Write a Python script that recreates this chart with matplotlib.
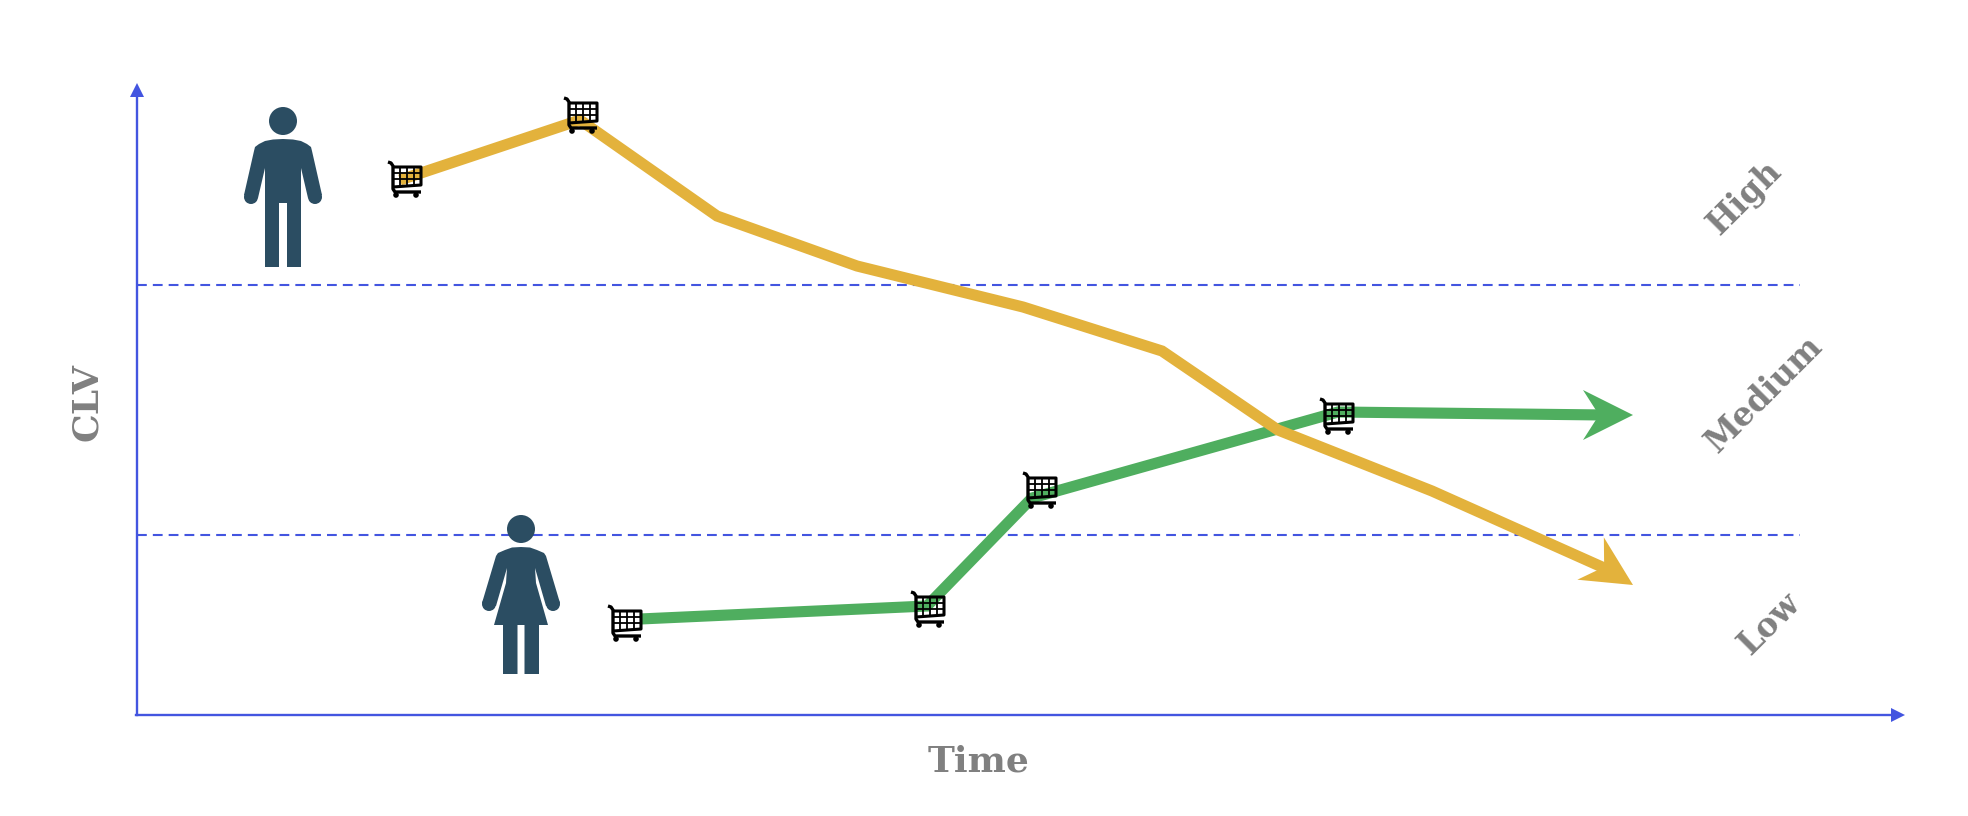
import numpy as np
import matplotlib
matplotlib.use("Agg")
import matplotlib.pyplot as plt
from matplotlib.patches import Polygon, Circle

# all values, in picture pixels (y grows downwards)
yellow_x = [400, 580, 717, 857, 1023, 1162, 1278, 1432, 1611]
yellow_y = [180, 120, 216, 266, 307, 351, 430, 491, 571]
green_x = [640, 927, 1032, 1338, 1605]
green_y = [619, 606, 498, 412, 415]
yellow_carts_x = [388, 564]
yellow_carts_y = [162, 98]
green_carts_x = [608, 911, 1023, 1320]
green_carts_y = [606, 592, 473, 399]
level_y = [285, 535]
level_labels = ["High", "Medium", "Low"]
level_label_x = [1745, 1764, 1770]
level_label_y = [198, 394, 624]

BLUE = "#4355e0"
YELLOW = "#e3b23c"
GREEN = "#4fae5f"
NAVY = "#2b4d62"
GREY = "#808080"
FONT = "DejaVu Serif"

fig = plt.figure(figsize=(19.68, 8.16), dpi=100)
ax = fig.add_axes([0, 0, 1, 1])
ax.set_xlim(0, 1968)
ax.set_ylim(816, 0)
ax.axis("off")


def arrow_head(tip, heading, color, zorder):
    # swept-back head, heading in degrees, measured on the picture
    a = np.radians(heading)
    d = np.array([np.cos(a), np.sin(a)])
    n = np.array([-d[1], d[0]])
    tip = np.array(tip)
    pts = [tip, tip - 50 * d + 25 * n, tip - 34 * d, tip - 50 * d - 25 * n]
    ax.add_patch(Polygon(pts, closed=True, fc=color, ec="none", zorder=zorder))


def draw_cart(x, y):
    k = dict(color="black", zorder=6, solid_capstyle="butt")
    # handle and frame
    ax.plot([x, x + 3, x + 5, x + 5, x + 7, x + 33], [y, y + 1, y + 4, y + 27, y + 30, y + 30], lw=2.4, **k)
    # basket
    ax.plot([x + 5, x + 33, x + 33, x + 5], [y + 5, y + 5, y + 23, y + 25], lw=2.2, **k)
    for i in [1, 2, 3]:
        ax.plot([x + 5 + i * 7] * 2, [y + 5, y + 24], lw=1.3, **k)
    for h in [11, 17]:
        ax.plot([x + 5, x + 33], [y + h, y + h], lw=1.3, **k)
    for wx in [x + 8, x + 28]:
        ax.add_patch(Circle((wx, y + 33), 2.8, fc="black", ec="none", zorder=6))


def draw_mirrored(cx, half):
    right = [(cx + px, py) for px, py in half]
    left = [(cx - px, py) for px, py in half[::-1]]
    ax.add_patch(Polygon(right + left, closed=True, fc=NAVY, ec="none", zorder=3))


def draw_man(cx):
    ax.add_patch(Circle((cx, 121), 14, fc=NAVY, ec="none", zorder=3))
    half = [(0, 139), (10, 139.5), (18, 141), (24, 144), (28, 147), (29, 151), (39, 195), (25, 198), (18, 168),
            (18, 267), (4, 267), (4, 203), (0, 203)]
    draw_mirrored(cx, half)
    for side in [-1, 1]:
        ax.add_patch(Circle((cx + side * 32, 197), 7, fc=NAVY, ec="none", zorder=3))


def draw_woman(cx):
    ax.add_patch(Circle((cx, 529), 14, fc=NAVY, ec="none", zorder=3))
    half = [(0, 547), (9, 547.5), (16, 550), (23, 553), (25, 556), (39, 603), (25, 606), (14, 568),
            (15, 583), (27, 625), (18, 625), (18, 674), (3.5, 674), (3.5, 625), (0, 625)]
    draw_mirrored(cx, half)
    for side in [-1, 1]:
        ax.add_patch(Circle((cx + side * 32, 604), 7, fc=NAVY, ec="none", zorder=3))


# level lines
for y in level_y:
    ax.plot([137, 1800], [y, y], color=BLUE, lw=1.5, dashes=(4.7, 2.9), zorder=1)

# axes with arrow ends
ax.plot([137, 137], [715, 95], color=BLUE, lw=1.7, zorder=2)
ax.plot([136, 1895], [715, 715], color=BLUE, lw=1.7, zorder=2)
ax.add_patch(Polygon([(137, 83), (144, 97), (130, 97)], fc=BLUE, ec="none", zorder=2))
ax.add_patch(Polygon([(1905, 715), (1891, 708), (1891, 722)], fc=BLUE, ec="none", zorder=2))

# people
draw_man(283)
draw_woman(521)

# customer paths
ax.plot(green_x, green_y, color=GREEN, lw=8, solid_joinstyle="miter", solid_capstyle="butt", zorder=4)
ax.plot(yellow_x, yellow_y, color=YELLOW, lw=8, solid_joinstyle="miter", solid_capstyle="butt", zorder=5)
arrow_head((1633, 415), 0, GREEN, 4)
arrow_head((1633, 585), 32, YELLOW, 5)

for x, y in zip(yellow_carts_x + green_carts_x, yellow_carts_y + green_carts_y):
    draw_cart(x, y)

# labels
ax.text(87, 402, "CLV", rotation=90, color=GREY, fontsize=26, family=FONT, weight="bold", ha="center", va="center")
ax.text(979, 761, "Time", color=GREY, fontsize=26, family=FONT, weight="bold", ha="center", va="center")
for name, x, y in zip(level_labels, level_label_x, level_label_y):
    ax.text(x, y, name, rotation=45, color=GREY, fontsize=23.5, family=FONT, weight="bold",
            ha="center", va="center", rotation_mode="anchor")

fig.savefig("out.png", dpi=100)
